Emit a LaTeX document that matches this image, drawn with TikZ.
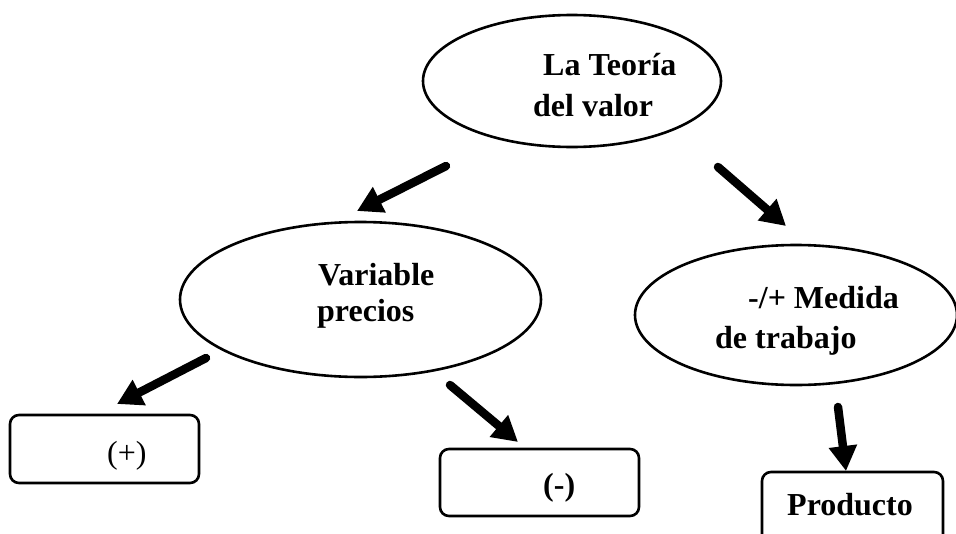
\documentclass[tikz,border=0pt]{standalone}
\usepackage{fontspec}
\setmainfont{Liberation Serif}
\usepackage{tkz-euclide}
\usetikzlibrary{arrows.meta, shapes.geometric}
\tikzset{>=stealth}

\begin{document}
\begin{tikzpicture}[x=1pt, y=-1pt,
    elipse/.style={ellipse, draw, line width=2.6pt, inner sep=0pt},
    caja/.style={draw, rounded corners=9pt, line width=2.6pt, inner sep=0pt},
    texto/.style={anchor=base west, inner sep=0pt, font=\fontsize{32}{36}\selectfont\bfseries},
    flecha/.style={line width=8.5pt, -{Triangle[length=25pt, width=27pt]}}]
    \useasboundingbox (0,0) rectangle (956,533);
    \clip (0,0) rectangle (956,533);
    % ellipses
    \node[elipse, minimum width=298pt, minimum height=132pt] (teoria) at (572,81) {};
    \node[elipse, minimum width=361pt, minimum height=155pt] (variable) at (360.5,299.5) {};
    \node[elipse, minimum width=322pt, minimum height=140pt] (medida) at (796,315) {};
    % boxes
    \node[caja, minimum width=189pt, minimum height=68pt] (mas) at (104.5,449) {};
    \node[caja, minimum width=199pt, minimum height=67pt] (menos) at (539.5,482.5) {};
    \node[caja, minimum width=181pt, minimum height=80pt] (producto) at (852.5,512) {};
    % texts
    \node[texto] (t1) at (543,75) {La Teoría};
    \node[texto] (t2) at (533,116) {del valor};
    \node[texto] (t3) at (318,285) {Variable};
    \node[texto] (t4) at (317,321) {precios};
    \node[texto] (t5) at (748,308) {-/+ Medida};
    \node[texto] (t6) at (715,348) {de trabajo};
    \node[texto] (t7) at (107,463) {\mdseries (+)};
    \node[texto] (t8) at (543,495) {(-)};
    \node[texto] (t9) at (787,515) {Producto};
    % arrows
    \tkzDefPoints{446/166/A, 357/211/B, 718/167/C, 786/226/D, 206/358/E,
      117/404/F, 450/385/G, 518/442/H, 838/407/I, 846/471/J}
    \tkzDrawSegments[flecha](A,B C,D E,F G,H I,J)
\end{tikzpicture}
\end{document}
